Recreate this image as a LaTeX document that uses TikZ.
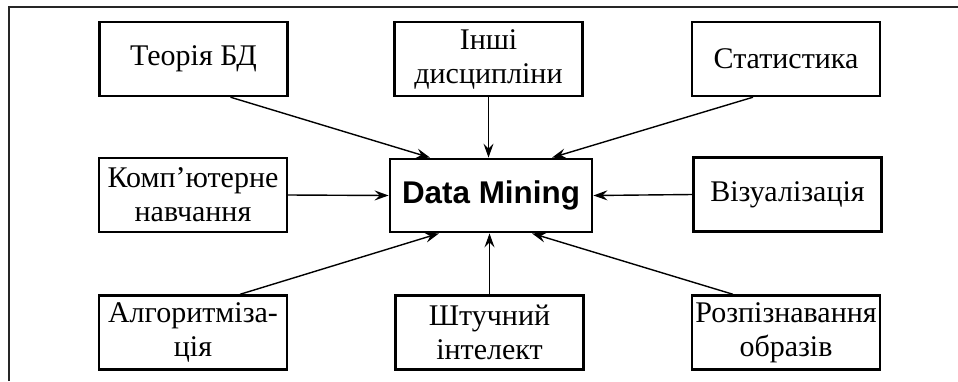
\documentclass[tikz,border=0pt]{standalone}
\usepackage{fontspec}
\setmainfont{Liberation Serif}
\setsansfont{Liberation Sans}
\usetikzlibrary{arrows.meta}

\begin{document}
\begin{tikzpicture}[x=0.5pt,y=-0.5pt,
    box/.style={draw,line width=1.2pt,minimum width=94pt,minimum height=37pt,
      align=center,inner sep=0pt,font=\fontsize{15}{17}\selectfont},
    core/.style={draw,line width=1.4pt,minimum width=101pt,minimum height=36.5pt,
      inner sep=0pt,font=\sffamily\bfseries\fontsize{15.7}{18}\selectfont},
    link/.style={line width=0.7pt,-{Stealth[length=7pt,width=5pt,inset=2.5pt]}}]

    \useasboundingbox (0,0) rectangle (958,381);

    % frame
    \draw[line width=0.75pt,black!85] (9,381) -- (9,7) -- (958,7);

    % centre box
    \node[core] (dm) at (491,195.5) {Data Mining};

    % top row
    \node[box] (theory) at (193.5,59) {Теорія БД};
    \node[box] (other) at (488.5,59) {Інші\\дисципліни};
    \node[box] (stats) at (786,59) {Статистика};

    % middle row
    \node[box] (learn) at (193,195) {Комп’ютерне\\навчання};
    \node[box] (vis) at (787.5,194.5) {Візуалізація};

    % bottom row
    \node[box] (algo) at (193,332.5) {Алгоритміза-\\ція};
    \node[box] (ai) at (489.5,332.5) {Штучний\\інтелект};
    \node[box] (recog) at (786,332.5) {Розпізнавання\\образів};

    % arrows into the centre
    \draw[link] ([xshift=18.5pt]theory.south) -- ([xshift=-30.5pt]dm.north);
    \draw[link] (other.south) -- (other.south |- dm.north);
    \draw[link] ([xshift=-16.5pt]stats.south) -- ([xshift=30.5pt]dm.north);
    \draw[link] (learn.east) -- (dm.west);
    \draw[link] (vis.west) -- (dm.east);
    \draw[link] ([xshift=23.5pt]algo.north) -- ([xshift=-26pt]dm.south);
    \draw[link] (ai.north) -- (ai.north |- dm.south);
    \draw[link] ([xshift=-26.5pt]recog.north) -- ([xshift=20.5pt]dm.south);
\end{tikzpicture}
\end{document}
